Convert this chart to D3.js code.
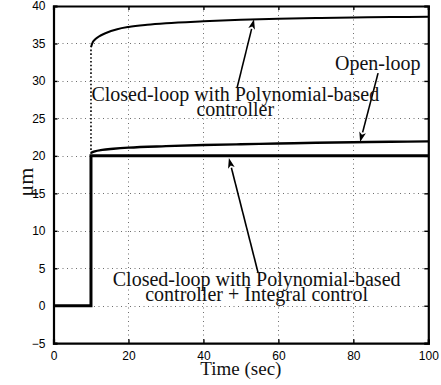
<!DOCTYPE html>
<html>
<head>
<meta charset="utf-8">
<script src="https://cdn.jsdelivr.net/npm/d3@7"></script>
<style>
  html, body { margin: 0; padding: 0; background: #fff; }
  svg { display: block; }
</style>
</head>
<body>
<div id="chart"></div>
<script>
// Step response of the positioning stage, three configurations (micrometres vs seconds)
const openLoopT = [0, 10, 10, 11, 13, 16, 20, 30, 40, 50, 60, 70, 80, 90, 100];
const openLoopY = [0, 0, 20.4, 20.6, 20.8, 20.95, 21.1, 21.3, 21.45, 21.55, 21.65, 21.75, 21.82, 21.88, 21.93];

const polyT = [0, 10, 10, 10.5, 11, 12, 14, 17, 20, 25, 30, 40, 50, 60, 70, 80, 90, 100];
const polyY = [0, 0, 34.5, 35.2, 35.5, 35.9, 36.4, 36.9, 37.2, 37.5, 37.7, 37.95, 38.15, 38.3, 38.4, 38.47, 38.52, 38.56];

const integralT = [0, 10, 10, 100];
const integralY = [0, 0, 20, 20];

const xTicks = [0, 20, 40, 60, 80, 100];
const yTicks = [-5, 0, 5, 10, 15, 20, 25, 30, 35, 40];
const yTickLabels = ["\u22125", "0", "5", "10", "15", "20", "25", "30", "35", "40"];

// Annotation arrows, [tail, head] in data units
const arrowTail = [[48.96, 29.04], [86.6, 31.04], [54.6, 4.36]];
const arrowHead = [[53.5, 38.24], [81.8, 21.84], [46.8, 19.7]];

const W = 441, H = 385;
const margin = { left: 53.5, right: 12.7, top: 6, bottom: 41.8 };
const iw = W - margin.left - margin.right;
const ih = H - margin.top - margin.bottom;

const x = d3.scaleLinear().domain([0, 100]).range([0, iw]);
const y = d3.scaleLinear().domain([-5, 40]).range([ih, 0]);

const svg = d3.select("#chart").append("svg")
  .attr("width", W).attr("height", H);

const g = svg.append("g").attr("transform", `translate(${margin.left},${margin.top})`);

// dotted grid, snapped to whole pixels so the dots stay crisp
const snap = v => Math.round(v + margin.left) + 0.5 - margin.left;
const snapY = v => Math.round(v + margin.top) + 0.5 - margin.top;
const grid = g.append("g").attr("stroke", "#6e6e6e").attr("stroke-width", 1)
  .attr("stroke-dasharray", "1,3.5");
xTicks.slice(1, -1).forEach(t => {
  grid.append("line").attr("x1", snap(x(t))).attr("x2", snap(x(t))).attr("y1", 0).attr("y2", ih);
});
yTicks.slice(1, -1).forEach(t => {
  grid.append("line").attr("x1", 0).attr("x2", iw).attr("y1", snapY(y(t))).attr("y2", snapY(y(t)));
});

// axes with inward ticks on all four sides
const tickFont = "'Liberation Sans', Arial, sans-serif";
const axB = g.append("g").attr("transform", `translate(0,${ih})`)
  .call(d3.axisBottom(x).tickValues(xTicks).tickSize(-4).tickPadding(8));
const axT = g.append("g")
  .call(d3.axisTop(x).tickValues(xTicks).tickSize(-4).tickFormat(""));
const axL = g.append("g")
  .call(d3.axisLeft(y).tickValues(yTicks).tickSize(-4).tickPadding(8)
    .tickFormat((d, i) => yTickLabels[i]));
const axR = g.append("g").attr("transform", `translate(${iw},0)`)
  .call(d3.axisRight(y).tickValues(yTicks).tickSize(-4).tickFormat(""));

[axB, axT, axL, axR].forEach(a => {
  a.select(".domain").attr("stroke", "#000").attr("stroke-width", 2.2);
  a.selectAll(".tick line").attr("stroke", "#000").attr("stroke-width", 1.4);
  a.selectAll("text").attr("font-family", tickFont).attr("font-size", 12).attr("fill", "#000");
});

// data curves
const zip = (ts, vs) => ts.map((t, i) => [t, vs[i]]);
const straight = d3.line().x(d => x(d[0])).y(d => y(d[1]));
const smooth = d3.line().x(d => x(d[0])).y(d => y(d[1])).curve(d3.curveMonotoneX);

const polyPts = zip(polyT, polyY);
// fast rise at t = 10 is sparsely sampled, drawn as dots
g.append("path").datum([polyPts[1], polyPts[2]])
  .attr("d", straight).attr("fill", "none").attr("stroke", "#000")
  .attr("stroke-width", 1.6).attr("stroke-dasharray", "1.6,2.2");
g.append("path").datum(polyPts.slice(2))
  .attr("d", smooth).attr("fill", "none")
  .attr("stroke", "#000").attr("stroke-width", 2);

const openPts = zip(openLoopT, openLoopY);
g.append("path").datum(openPts.slice(2))
  .attr("d", smooth)
  .attr("fill", "none").attr("stroke", "#000").attr("stroke-width", 2.4);

g.append("path").datum(zip(integralT, integralY))
  .attr("d", straight)
  .attr("fill", "none").attr("stroke", "#000").attr("stroke-width", 3);

// annotation arrows
function arrow(t, h) {
  const x1 = x(t[0]), y1 = y(t[1]), x2 = x(h[0]), y2 = y(h[1]);
  const ang = Math.atan2(y2 - y1, x2 - x1);
  const L = 10, Wd = 3.4;
  const bx = x2 - L * Math.cos(ang), by = y2 - L * Math.sin(ang);
  g.append("line").attr("x1", x1).attr("y1", y1).attr("x2", bx).attr("y2", by)
    .attr("stroke", "#000").attr("stroke-width", 1.6);
  const px = -Math.sin(ang) * Wd, py = Math.cos(ang) * Wd;
  g.append("path")
    .attr("d", `M${x2},${y2}L${bx + px},${by + py}L${bx + L * 0.25 * Math.cos(ang)},${by + L * 0.25 * Math.sin(ang)}L${bx - px},${by - py}Z`)
    .attr("fill", "#000");
}
arrowTail.forEach((t, i) => arrow(t, arrowHead[i]));

// annotation text
const serif = "'Liberation Serif', 'Times New Roman', serif";
const ann = g.append("g").attr("font-family", serif).attr("font-size", 20).attr("fill", "#111");
const t1 = ann.append("text").attr("x", x(48.5)).attr("y", y(27.35)).attr("text-anchor", "middle");
t1.append("tspan").attr("x", x(48.5)).text("Closed-loop with Polynomial-based");
t1.append("tspan").attr("x", x(48.5)).attr("dy", 15.5).text("controller");

ann.append("text").attr("x", x(75.1)).attr("y", y(31.44)).text("Open-loop");

const t3 = ann.append("text").attr("x", x(54.2)).attr("y", y(2.67)).attr("text-anchor", "middle");
t3.append("tspan").attr("x", x(54.2)).text("Closed-loop with Polynomial-based");
t3.append("tspan").attr("x", x(54.2)).attr("dy", 15.5).text("controller + Integral control");

// axis titles
svg.append("text").attr("x", margin.left + x(50)).attr("y", 375)
  .attr("text-anchor", "middle").attr("font-family", serif).attr("font-size", 19)
  .attr("fill", "#111").text("Time (sec)");
svg.append("text").attr("transform", `translate(33,${margin.top + y(16.5)}) rotate(-90)`)
  .attr("text-anchor", "middle").attr("font-family", serif).attr("font-size", 22)
  .attr("fill", "#111").text("\u03bcm");
</script>
</body>
</html>
